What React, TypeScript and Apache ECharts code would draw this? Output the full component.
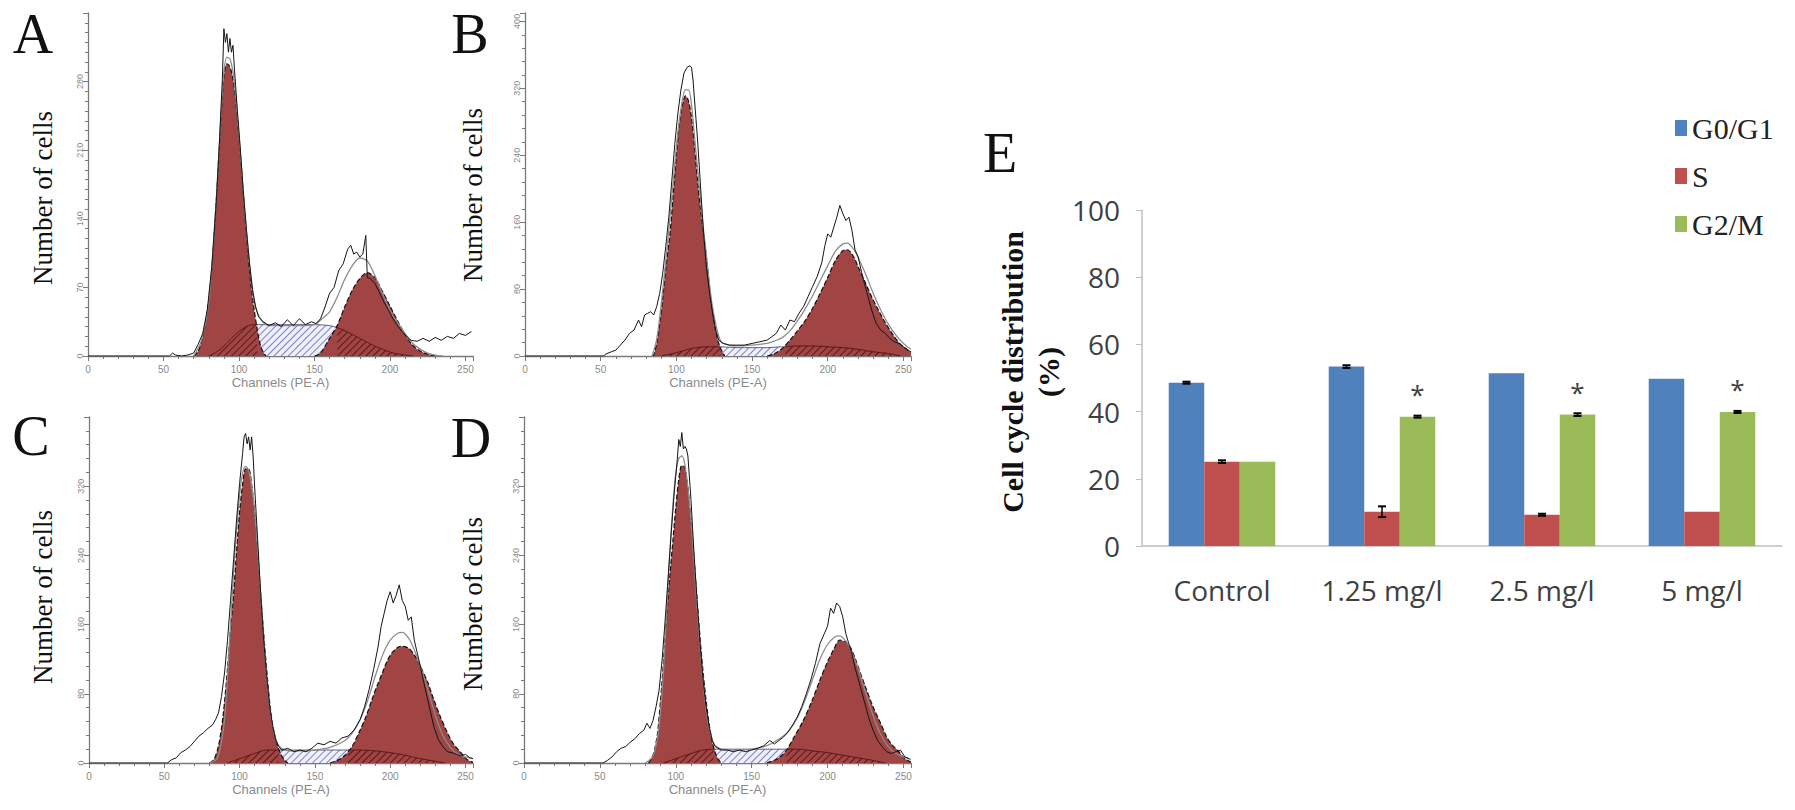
import React, { useEffect, useRef } from "react";
import * as echarts from "echarts";

// ---------- Panels A-D : DNA histograms, [channel, cells] ----------
const aRaw = [[0,0],[50,0],[54,0],[56,3],[58,1],[62,0],[66,1],[70,3],[73,12],[76,23],[79,47],[82,91],[85,158],[87,216],[89,283],[90,334],[91,320],[92,329],[93,310],[94,324],[95,310],[96,317],[97,293],[99,249],[101,209],[103,165],[105,128],[107,94],[109,67],[111,50],[113,40],[116,35],[120,31],[124,34],[128,30],[132,37],[136,31],[140,38],[144,32],[148,35],[151,33],[154,38],[157,50],[160,64],[163,70],[166,87],[169,94],[172,109],[174,113],[176,104],[178,106],[180,101],[182,104],[184,123],[185,80],[187,79],[190,74],[193,65],[196,55],[199,47],[202,38],[205,31],[208,25],[211,20],[214,16],[218,15],[222,18],[226,15],[230,19],[234,16],[238,20],[242,18],[246,23],[250,21],[254,25]];
const aModel = [[70,0],[75,15],[80,55],[85,160],[88,245],[90,290],[92,305],[94,303],[96,290],[98,262],[100,225],[102,185],[104,145],[106,110],[108,80],[110,58],[112,45],[115,36],[118,32],[120,31],[130,31],[140,31],[150,32],[155,38],[160,45],[165,60],[170,78],[175,92],[180,100],[185,97],[190,82],[195,64],[200,47],[205,34],[210,23],[215,13],[220,7],[225,3],[230,1],[235,0]];
const aG1 = [[70,0],[73,5],[76,20],[79,45],[82,90],[85,160],[88,240],[90,285],[92,298],[94,295],[96,283],[98,258],[100,222],[102,183],[104,142],[106,104],[108,72],[110,48],[112,28],[114,12],[116,4],[118,0]];
const aG2 = [[150,0],[154,3],[160,18],[165,31],[170,50],[175,67],[180,79],[185,85],[190,80],[195,66],[200,51],[205,36],[210,22],[215,11],[220,5],[225,2],[230,0]];
const aS = [[80,0],[85,4],[90,10],[95,18],[100,25],[105,30],[110,32],[112,32],[120,32],[130,32],[140,32],[150,32],[160,31],[165,29],[170,26],[175,22],[180,18],[185,14],[190,10],[195,7],[200,4],[205,2],[210,1],[215,0]];
const aSplit = [112, 165];

const bRaw = [[0,0],[52,0],[53,2],[57,5],[60,7],[63,13],[66,19],[69,27],[72,31],[75,43],[77,35],[79,49],[81,51],[83,53],[85,49],[87,59],[89,75],[91,99],[93,131],[95,166],[97,210],[99,254],[101,290],[103,318],[105,338],[107,345],[109,347],[110,345],[111,330],[112,306],[114,258],[116,202],[118,146],[120,103],[122,75],[124,51],[126,31],[128,19],[131,15],[135,13],[140,13],[145,13],[150,15],[155,17],[160,19],[163,23],[166,27],[169,37],[172,31],[175,43],[178,41],[181,51],[184,59],[187,71],[190,83],[193,95],[196,111],[198,131],[200,146],[202,142],[204,154],[206,166],[208,180],[210,170],[212,162],[214,166],[216,150],[218,127],[220,119],[223,95],[226,75],[229,55],[232,39],[235,31],[238,27],[241,21],[244,17],[247,15],[250,11],[253,7],[255,5]];
const bModel = [[84,0],[87,20],[90,62],[95,150],[100,250],[103,295],[106,318],[108,318],[110,300],[112,262],[115,205],[118,150],[120,118],[122,84],[124,57],[126,38],[128,24],[130,16],[135,13],[140,12],[150,13],[160,15],[165,18],[170,22],[175,30],[180,42],[185,56],[190,72],[195,90],[200,108],[205,125],[210,134],[213,135],[217,128],[220,118],[225,98],[230,75],[235,55],[240,38],[245,25],[250,15],[255,8]];
const bG1 = [[84,0],[85,1],[87,15],[89,39],[91,70],[93,105],[96,150],[98,195],[100,240],[102,278],[104,300],[106,311],[108,305],[110,285],[112,250],[114,210],[116,175],[118,146],[120,115],[122,80],[124,52],[126,30],[128,15],[130,6],[132,0]];
const bG2 = [[160,0],[165,3],[170,9],[175,19],[180,30],[185,42],[190,57],[195,75],[200,94],[205,114],[210,126],[213,127],[217,119],[220,107],[224,91],[227,79],[230,67],[234,53],[237,43],[240,34],[244,23],[247,16],[250,11],[253,7],[255,5]];
const bS = [[90,0],[100,4],[110,9],[120,11],[129,11],[140,10],[150,10],[160,10],[170,11],[172,11],[180,12],[190,12],[200,11],[210,10],[220,8],[230,5],[240,3],[248,0]];
const bSplit = [129, 172];

const cRaw = [[0,0],[52,0],[55,4],[58,6],[61,12],[64,15],[67,19],[70,25],[73,31],[76,35],[79,40],[82,44],[84,50],[86,58],[88,77],[90,104],[92,142],[94,188],[96,235],[98,281],[100,323],[102,358],[103,377],[104,381],[105,369],[106,377],[107,362],[108,377],[109,354],[110,319],[112,258],[114,196],[116,142],[118,100],[120,65],[122,42],[124,27],[126,19],[128,15],[132,17],[136,13],[140,15],[144,13],[148,17],[152,23],[156,21],[160,25],[164,23],[168,29],[172,31],[176,38],[180,50],[183,65],[186,85],[189,108],[192,135],[194,158],[196,173],[198,188],[200,198],[202,185],[204,194],[206,206],[208,188],[210,181],[212,165],[214,169],[216,142],[218,127],[220,112],[223,88],[226,65],[229,42],[232,27],[235,19],[238,13],[241,12],[244,10],[247,8],[250,10],[253,6],[255,5]];
const cModel = [[80,0],[85,5],[88,25],[90,50],[92,100],[94,160],[96,220],[98,270],[100,310],[102,335],[104,343],[106,338],[108,320],[110,290],[112,245],[114,195],[116,145],[118,100],[120,65],[122,42],[124,28],[126,20],[130,15],[140,14],[150,15],[160,18],[170,26],[175,35],[180,50],[185,72],[190,100],[195,125],[200,142],[205,150],[208,151],[212,145],[215,135],[220,112],[225,85],[230,55],[235,32],[240,18],[245,10],[250,7],[255,5]];
const cG1 = [[80,0],[83,4],[86,20],[89,54],[92,110],[94,155],[96,195],[98,245],[100,290],[102,322],[104,340],[106,340],[108,322],[110,290],[112,245],[114,195],[116,150],[118,108],[120,70],[122,44],[124,27],[126,16],[128,8],[130,3],[132,0]];
const cG2 = [[160,0],[165,3],[170,9],[175,20],[180,38],[184,54],[188,74],[191,88],[195,105],[198,118],[202,129],[207,135],[212,133],[216,125],[220,112],[225,93],[229,73],[233,55],[238,35],[242,22],[247,12],[251,4],[255,1]];
const cS = [[92,0],[100,5],[110,11],[118,15],[126,15],[130,15],[140,15],[150,15],[160,15],[172,15],[180,15],[190,14],[200,12],[210,9],[220,5],[230,2],[236,0]];
const cSplit = [126, 172];

const dRaw = [[0,0],[52,0],[55,3],[58,7],[61,13],[64,17],[67,19],[70,24],[73,28],[76,34],[79,38],[81,46],[83,40],[85,49],[87,65],[89,84],[91,119],[93,165],[95,216],[97,266],[99,312],[101,351],[102,374],[103,366],[104,382],[105,363],[106,366],[107,363],[108,355],[110,305],[112,243],[114,189],[116,138],[118,96],[120,65],[122,42],[124,26],[126,19],[130,15],[134,15],[138,13],[142,15],[146,13],[150,15],[154,17],[158,20],[162,26],[165,22],[168,26],[171,30],[174,36],[177,44],[180,53],[183,65],[186,80],[189,96],[192,115],[195,138],[198,150],[200,158],[202,179],[204,173],[206,185],[208,181],[210,169],[212,150],[214,138],[216,127],[218,111],[221,92],[224,73],[227,53],[230,38],[233,26],[236,19],[239,13],[242,11],[245,13],[248,15],[251,7],[254,5]];
const dModel = [[80,0],[85,8],[88,30],[90,60],[92,110],[94,175],[96,240],[98,295],[100,335],[102,352],[104,355],[106,345],[108,318],[110,280],[112,232],[114,182],[116,135],[118,95],[120,62],[122,40],[124,27],[126,20],[130,16],[140,15],[150,16],[160,20],[170,30],[175,38],[180,52],[185,72],[190,96],[195,120],[200,137],[205,146],[208,147],[212,141],[215,132],[220,110],[225,82],[230,55],[235,33],[240,19],[245,11],[250,7],[255,4]];
const dG1 = [[82,0],[84,5],[86,15],[88,35],[90,73],[92,120],[94,170],[96,215],[98,255],[100,295],[102,328],[104,344],[106,342],[108,318],[110,282],[112,238],[114,190],[116,145],[118,105],[120,72],[122,45],[124,25],[126,12],[128,4],[130,0]];
const dG2 = [[160,0],[166,4],[170,9],[173,15],[178,30],[184,49],[190,73],[195,96],[200,117],[204,131],[208,142],[212,140],[215,134],[218,122],[221,107],[225,88],[230,65],[235,46],[239,30],[243,20],[246,15],[251,5],[255,1]];
const dS = [[92,0],[100,5],[110,11],[118,15],[125,16],[130,16],[140,16],[150,16],[160,16],[173,16],[180,16],[190,14],[200,12],[210,9],[220,6],[230,3],[238,0]];
const dSplit = [125, 173];

const panelLetters = ["A", "B", "C", "D"];
const histMax = [350, 410, 400, 400];
const histStep = [70, 80, 80, 80];
const histMinor = [7, 5, 5, 5];
const channelMax = 255;
const channelStep = 50;

// ---------- Panel E : cell cycle distribution (%) ----------
const categories = ["Control", "1.25 mg/l", "2.5 mg/l", "5 mg/l"];
const phaseNames = ["G0/G1", "S", "G2/M"];
const g0g1 = [48.6, 53.4, 51.4, 49.8];
const sPhase = [25.1, 10.2, 9.3, 10.2];
const g2m = [25.1, 38.5, 39.1, 39.9];
const g0g1Err = [0.3, 0.4, 0, 0];
const sPhaseErr = [0.4, 1.6, 0.3, 0];
const g2mErr = [0, 0.3, 0.4, 0.3];
const significance = ["", "*", "*", "*"];
const yTicksE = { min: 0, max: 100, step: 20 };

const RED = "#a04444";
const PHASE_COLORS = ["#4f81bd", "#c0504d", "#9bbb59"];

export default function App() {
  const ref = useRef<HTMLDivElement>(null);

  useEffect(() => {
    if (!ref.current) return;
    const chart = echarts.init(ref.current, undefined, { renderer: "svg" });

    const panels = [
      { raw: aRaw, model: aModel, g1: aG1, g2: aG2, s: aS, split: aSplit },
      { raw: bRaw, model: bModel, g1: bG1, g2: bG2, s: bS, split: bSplit },
      { raw: cRaw, model: cModel, g1: cG1, g2: cG2, s: cS, split: cSplit },
      { raw: dRaw, model: dModel, g1: dG1, g2: dG2, s: dS, split: dSplit },
    ];

    const histGrids = [
      { left: 88, top: 13, width: 385, height: 343 },
      { left: 525, top: 13, width: 386, height: 343 },
      { left: 89, top: 417, width: 384, height: 346 },
      { left: 524, top: 417, width: 387, height: 346 },
    ];

    const blueDecal = {
      symbol: "rect", symbolSize: 1, dashArrayX: [1, 0], dashArrayY: [1, 4],
      rotation: -Math.PI / 4, color: "#7f7fc9", backgroundColor: "#eef0fb",
    };
    const redDecal = {
      symbol: "rect", symbolSize: 1, dashArrayX: [1, 0], dashArrayY: [1, 4],
      rotation: -Math.PI / 4, color: "#5a1717",
    };

    const grids: any[] = histGrids.map((g) => ({ ...g, outerBoundsMode: "none" }));
    grids.push({ left: 1142, top: 210, width: 640, height: 336, outerBoundsMode: "none" });

    const axisGray = "#7a7a7a";
    const xAxes: any[] = panels.map((_, i) => ({
      type: "value", gridIndex: i, min: 0, max: channelMax, interval: channelStep,
      axisLine: { show: true, onZero: true, lineStyle: { color: axisGray, width: 1.3 } },
      axisTick: { show: true, length: 5, lineStyle: { color: axisGray } },
      minorTick: { show: true, splitNumber: 5, length: 3, lineStyle: { color: axisGray } },
      splitLine: { show: false }, minorSplitLine: { show: false },
      axisLabel: { fontSize: 10, color: "#8a8a8a", margin: 8, showMaxLabel: false, fontFamily: "Liberation Sans" },
      name: "Channels (PE-A)", nameLocation: "middle", nameGap: 20,
      nameTextStyle: { fontSize: 13, color: "#8a8a8a", fontFamily: "Liberation Sans" },
    }));
    const yAxes: any[] = panels.map((_, i) => ({
      type: "value", gridIndex: i, min: 0, max: histMax[i], interval: histStep[i],
      axisLine: { show: true, lineStyle: { color: axisGray, width: 1.3 } },
      axisTick: { show: true, length: 5, lineStyle: { color: axisGray } },
      minorTick: { show: true, splitNumber: histMinor[i], length: 3, lineStyle: { color: axisGray } },
      splitLine: { show: false }, minorSplitLine: { show: false },
      axisLabel: { fontSize: 9, color: "#8a8a8a", margin: 4, rotate: 90, showMaxLabel: false, fontFamily: "Liberation Sans" },
    }));

    xAxes.push({
      type: "category", gridIndex: 4, data: categories,
      axisLine: { show: true, lineStyle: { color: "#bfbfbf", width: 1.5 } },
      axisTick: { show: false },
      axisLabel: { fontSize: 28, color: "#404040", margin: 30, interval: 0, fontFamily: "Open Sans" },
      splitLine: { show: false },
    });
    yAxes.push({
      type: "value", gridIndex: 4, min: yTicksE.min, max: yTicksE.max, interval: yTicksE.step,
      axisLine: { show: true, lineStyle: { color: "#bfbfbf", width: 1.5 } },
      axisTick: { show: true, length: 6, lineStyle: { color: "#bfbfbf" } },
      axisLabel: { fontSize: 28, color: "#404040", margin: 22, fontFamily: "Open Sans" },
      splitLine: { show: false },
    });

    const series: any[] = [];
    const part = (s: number[][], lo: number, hi: number) => s.filter((p) => p[0] >= lo && p[0] <= hi);

    panels.forEach((p, i) => {
      const base = { type: "line", xAxisIndex: i, yAxisIndex: i, symbol: "none", showSymbol: false, silent: true, animation: false };
      series.push({
        ...base, data: p.s, smooth: 0.3,
        lineStyle: { color: "#3a3a60", width: 0.8 },
        areaStyle: { color: "#eef0fb", opacity: 1 },
        itemStyle: { decal: blueDecal }, z: 1,
      });
      series.push({
        ...base, data: p.g1, smooth: 0.3,
        lineStyle: { color: "#111", width: 1.2, type: "dashed" },
        areaStyle: { color: RED, opacity: 1 }, z: 2,
      });
      series.push({
        ...base, data: p.g2, smooth: 0.3,
        lineStyle: { color: "#111", width: 1.2, type: "dashed" },
        areaStyle: { color: RED, opacity: 1 }, z: 2,
      });
      series.push({
        ...base, data: part(p.s, 0, p.split[0]), smooth: 0.3,
        lineStyle: { color: "#4a1212", width: 0.8 },
        areaStyle: { color: "rgba(0,0,0,0)", opacity: 1 },
        itemStyle: { decal: redDecal }, z: 3,
      });
      series.push({
        ...base, data: part(p.s, p.split[1], channelMax), smooth: 0.3,
        lineStyle: { color: "#4a1212", width: 0.8 },
        areaStyle: { color: "rgba(0,0,0,0)", opacity: 1 },
        itemStyle: { decal: redDecal }, z: 3,
      });
      series.push({
        ...base, data: p.model, smooth: 0.3,
        lineStyle: { color: "#8c8c8c", width: 1.3 }, z: 4,
      });
      series.push({
        ...base, data: p.raw, smooth: false,
        lineStyle: { color: "#151515", width: 1 }, z: 5,
      });
    });

    const barVals = [g0g1, sPhase, g2m];
    barVals.forEach((vals, k) => {
      series.push({
        type: "bar", name: phaseNames[k], xAxisIndex: 4, yAxisIndex: 4, data: vals,
        barGap: "0%", barCategoryGap: "33.4%",
        itemStyle: { color: PHASE_COLORS[k] },
        label: k === 2 ? {
          show: true, position: "top", distance: 10,
          formatter: (pp: any) => significance[pp.dataIndex],
          fontSize: 26, color: "#404040", fontFamily: "Open Sans",
        } : { show: false },
        animation: false,
      });
    });

    const errs = [g0g1Err, sPhaseErr, g2mErr];
    const errData: number[][] = [];
    barVals.forEach((vals, k) => {
      vals.forEach((v, c) => {
        if (errs[k][c] > 0) errData.push([c, k, v, errs[k][c]]);
      });
    });
    series.push({
      type: "custom", xAxisIndex: 4, yAxisIndex: 4, data: errData,
      encode: { x: 0, y: 2 }, silent: true, animation: false, z: 5,
      renderItem: (params: any, api: any) => {
        const cat = api.value(0);
        const k = api.value(1);
        const val = api.value(2);
        const err = api.value(3);
        const center = api.coord([cat, 0]);
        const band = api.size([1, 0])[0];
        const barW = (band * (1 - 0.334)) / 3;
        const x = center[0] + (k - 1) * barW;
        const top = api.coord([cat, val + err])[1];
        const bot = api.coord([cat, val - err])[1];
        const cap = 4;
        const st = { stroke: "#000", lineWidth: 2 };
        return {
          type: "group",
          children: [
            { type: "line", shape: { x1: x, y1: top, x2: x, y2: bot }, style: { stroke: "#000", lineWidth: 1.5 } },
            { type: "line", shape: { x1: x - cap, y1: top, x2: x + cap, y2: top }, style: st },
            { type: "line", shape: { x1: x - cap, y1: bot, x2: x + cap, y2: bot }, style: st },
          ],
        };
      },
    });

    const serif = '"Liberation Serif", "Times New Roman", serif';
    const letterPos = [[33, 34], [470, 34], [31, 436], [471, 438]];
    const namePos = [[43, 198], [473, 195], [43, 597], [473, 604]];
    const graphic: any[] = [];
    panelLetters.forEach((t, i) => {
      graphic.push({
        type: "text", x: letterPos[i][0], y: letterPos[i][1], silent: true,
        style: { text: t, font: `56px ${serif}`, fill: "#111", align: "center", verticalAlign: "middle" },
      });
      graphic.push({
        type: "text", x: namePos[i][0], y: namePos[i][1], rotation: Math.PI / 2, silent: true,
        style: { text: "Number of cells", font: `27px ${serif}`, fill: "#111", align: "center", verticalAlign: "middle" },
      });
    });
    graphic.push({
      type: "text", x: 1000, y: 153, silent: true,
      style: { text: "E", font: `56px ${serif}`, fill: "#111", align: "center", verticalAlign: "middle" },
    });
    graphic.push({
      type: "text", x: 1012, y: 372, rotation: Math.PI / 2, silent: true,
      style: { text: "Cell cycle distribution", font: `bold 30px ${serif}`, fill: "#111", align: "center", verticalAlign: "middle" },
    });
    graphic.push({
      type: "text", x: 1048, y: 372, rotation: Math.PI / 2, silent: true,
      style: { text: "(%)", font: `bold 30px ${serif}`, fill: "#111", align: "center", verticalAlign: "middle" },
    });

    chart.setOption({
      animation: false,
      backgroundColor: "#ffffff",
      grid: grids,
      xAxis: xAxes,
      yAxis: yAxes,
      legend: {
        data: phaseNames, orient: "vertical", left: 1670, top: 108,
        itemWidth: 12, itemHeight: 16, itemGap: 18, icon: "rect",
        textStyle: { fontFamily: serif, fontSize: 30, color: "#222" },
        selectedMode: false,
      },
      series,
      graphic,
    });

    return () => chart.dispose();
  }, []);

  return (
    <div
      ref={ref}
      style={{ position: "absolute", left: 0, top: 0, width: 1795, height: 810 }}
    />
  );
}
